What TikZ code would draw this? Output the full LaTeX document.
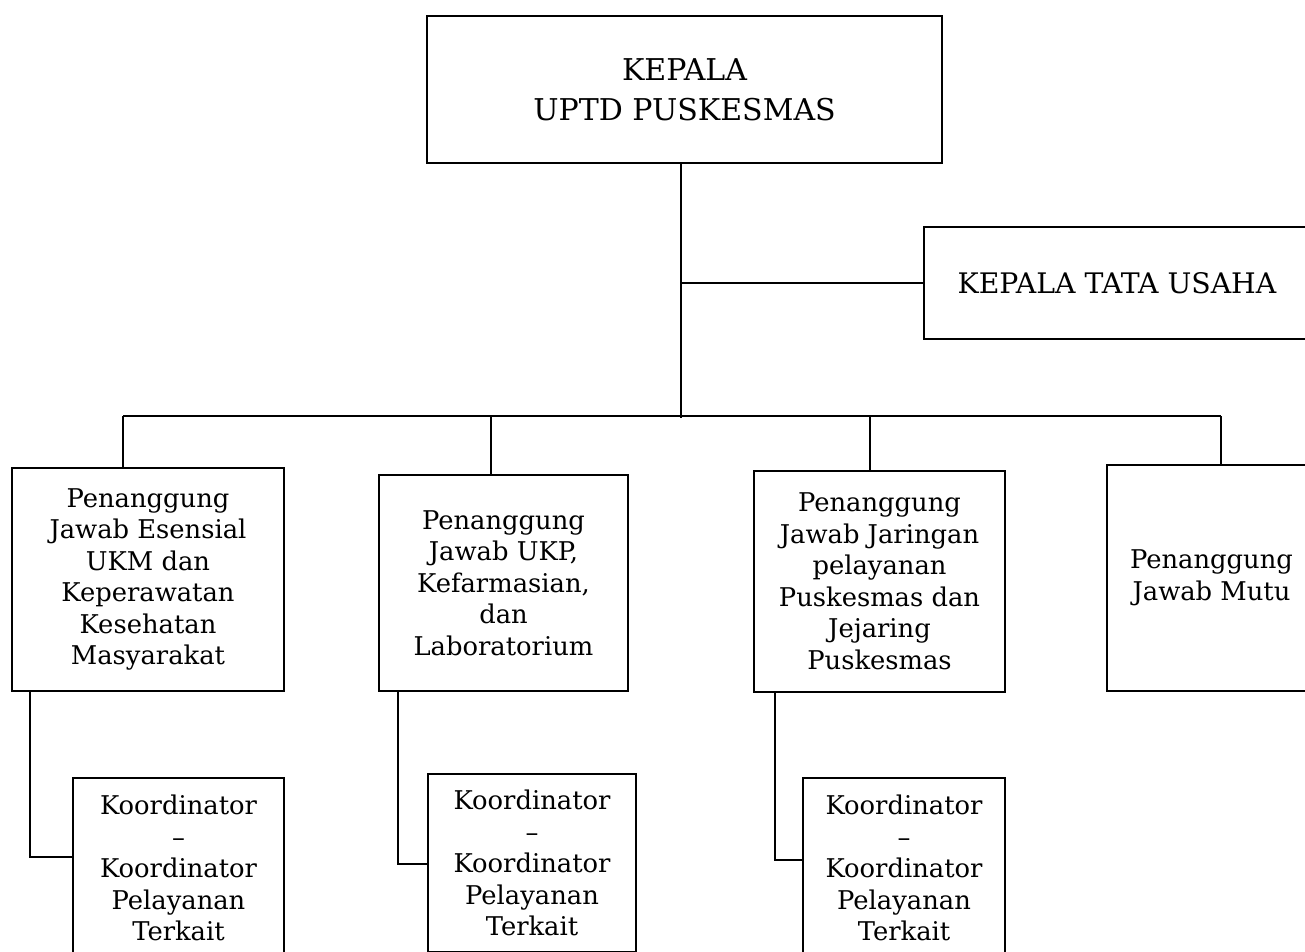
\documentclass[tikz,border=0pt]{standalone}
\usepackage{fontspec}
\setmainfont{DejaVu Serif}
\begin{document}
\begin{tikzpicture}[x=1pt,y=-1pt,line width=1.5pt,
  box/.style={draw=black,inner sep=0pt,align=center,font=\fontsize{25.8}{31.5}\selectfont},
  topbox/.style={box,font=\fontsize{30}{40}\selectfont},
  tubox/.style={box,font=\fontsize{28.3}{40}\selectfont}]
\useasboundingbox (0,0) rectangle (1305,951);
\clip (0,0) rectangle (1305,951);
\fill[white] (0,0) rectangle (1305,951);
% nodes
\node[topbox,minimum width=515pt,minimum height=147pt] (top) at (684.5,89.5) {KEPALA\\UPTD PUSKESMAS};
\node[tubox,minimum width=386pt,minimum height=112pt] (tu) at (1117,283) {KEPALA TATA USAHA};
\node[box,minimum width=272pt,minimum height=223pt] (b1) at (148,579.5) {Penanggung\\Jawab Esensial\\UKM dan\\Keperawatan\\Kesehatan\\Masyarakat};
\node[box,minimum width=249pt,minimum height=216pt] (b2) at (503.5,583) {Penanggung\\Jawab UKP,\\Kefarmasian,\\dan\\Laboratorium};
\node[box,minimum width=251pt,minimum height=221pt] (b3) at (879.5,581.5) {Penanggung\\Jawab Jaringan\\pelayanan\\Puskesmas dan\\Jejaring\\Puskesmas};
\node[box,minimum width=209pt,minimum height=226pt] (b4) at (1211.5,578) {Penanggung\\Jawab Mutu};
\node[box,minimum width=211pt,minimum height=180pt] (s1) at (178.5,868) {Koordinator\\–\\Koordinator\\Pelayanan\\Terkait};
\node[box,minimum width=208pt,minimum height=178pt] (s2) at (532,863) {Koordinator\\–\\Koordinator\\Pelayanan\\Terkait};
\node[box,minimum width=202pt,minimum height=180pt] (s3) at (904,868) {Koordinator\\–\\Koordinator\\Pelayanan\\Terkait};
% junction coordinates
\coordinate (j) at (681,418);
\coordinate (busL) at (123,416);
\coordinate (busR) at (1221,416);
\coordinate (d2) at (491,416);
\coordinate (d3) at (870,416);
\coordinate (e1) at (30,857);
\coordinate (e2) at (398,864);
\coordinate (e3) at (775,860);
% connectors
\draw (top.south -| j) -- (j);
\draw (j |- tu.west) -- (tu.west);
\draw (busL) -- (busR);
\draw (busL) -- (busL |- b1.north);
\draw (d2) -- (d2 |- b2.north);
\draw (d3) -- (d3 |- b3.north);
\draw (busR) -- (busR |- b4.north);
\draw (e1 |- b1.south) -- (e1) -- (e1 -| s1.west);
\draw (e2 |- b2.south) -- (e2) -- (e2 -| s2.west);
\draw (e3 |- b3.south) -- (e3) -- (e3 -| s3.west);
\end{tikzpicture}
\end{document}
